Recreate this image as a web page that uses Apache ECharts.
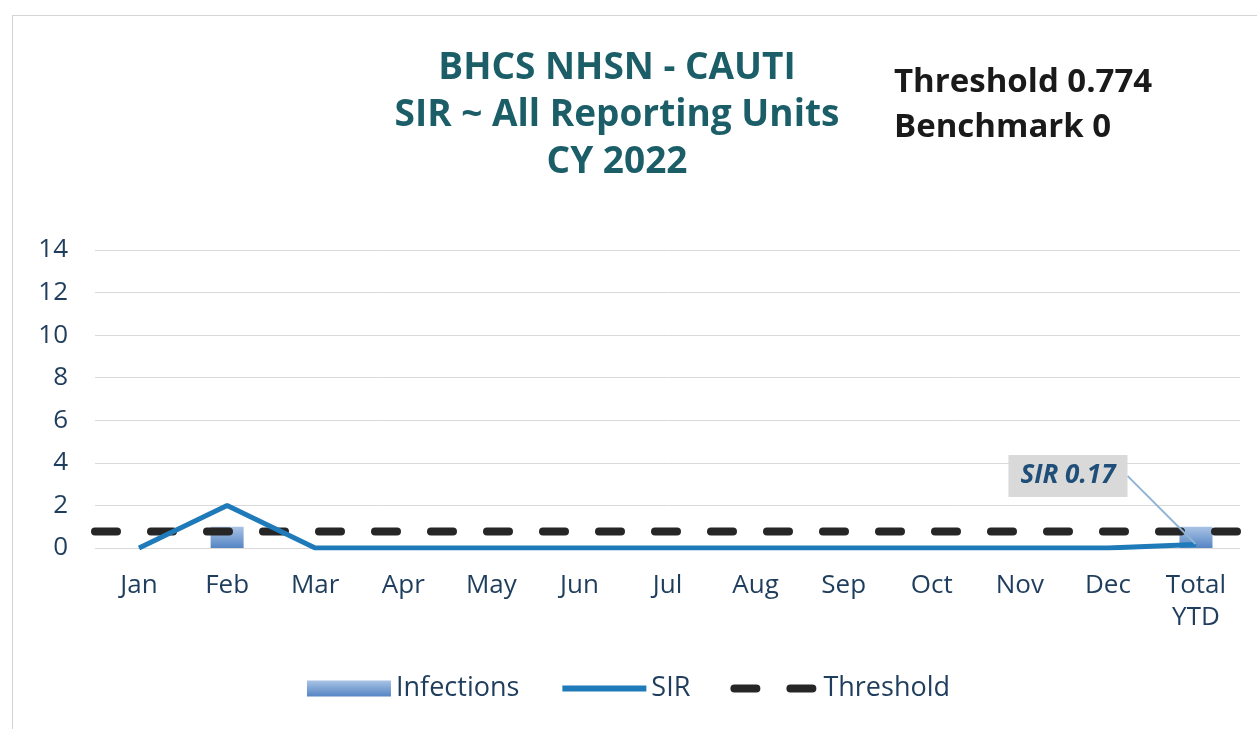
<!DOCTYPE html>
<html>
<head>
<meta charset="utf-8">
<script src="https://cdn.jsdelivr.net/npm/echarts@6/dist/echarts.min.js"></script>
<style>
  html, body { margin: 0; padding: 0; background: #fff; }
  #chart { width: 1257px; height: 729px; }
  .frame { position: absolute; left: 12px; top: 15px; width: 1260px; height: 730px; border: 1px solid #d4d4d4; pointer-events: none; }
</style>
</head>
<body>
<div class="frame"></div>
<div id="chart"></div>
<script>
// 数据
var categories = ['Jan', 'Feb', 'Mar', 'Apr', 'May', 'Jun', 'Jul', 'Aug', 'Sep', 'Oct', 'Nov', 'Dec', 'Total\nYTD']
var infections = [0, 1, 0, 0, 0, 0, 0, 0, 0, 0, 0, 0, 1]
var sir = [0, 2.0, 0, 0, 0, 0, 0, 0, 0, 0, 0, 0, 0.17]
var threshold = [0.774, 0.774, 0.774, 0.774, 0.774, 0.774, 0.774, 0.774, 0.774, 0.774, 0.774, 0.774, 0.774]
var yTicks = [0, 2, 4, 6, 8, 10, 12, 14]

var textColor = '#1f3d5c'
var font = '"Open Sans", Lato, sans-serif'
var last = sir.length - 1
var sirColor = '#1f7ab9'
var threshColor = '#262626'

var chart = echarts.init(document.getElementById('chart'))

// 只在 Total YTD 上显示标签
var sirData = sir.map(function (v, i) {
  if (i !== last) return v
  return {
    value: v,
    label: {
      show: true,
      position: 'top',
      formatter: 'SIR {c}',
      color: '#1f4e79',
      fontSize: 26,
      fontWeight: 'bold',
      fontStyle: 'italic',
      fontFamily: font,
      backgroundColor: '#d9d9d9',
      padding: [8, 12]
    },
    labelLine: { show: true, lineStyle: { color: '#8fb4d6', width: 2 } }
  }
})

var option = {
  animation: false,
  title: [{
    text: 'BHCS NHSN - CAUTI\nSIR ~ All Reporting Units\nCY 2022',
    left: 612,
    top: 40,
    textAlign: 'center',
    textStyle: { color: '#1b5e68', fontSize: 37, fontWeight: 'bold', fontFamily: font, lineHeight: 47 }
  }, {
    text: 'Threshold 0.774\nBenchmark 0',
    left: 889,
    top: 55,
    textStyle: { color: '#1a1a1a', fontSize: 33, fontWeight: 'bold', fontFamily: font, lineHeight: 45 }
  }],
  grid: { left: 95, right: 17, top: 250, bottom: 181 },
  legend: {
    bottom: 22,
    left: 'center',
    itemGap: 40,
    itemWidth: 84,
    itemHeight: 16,
    textStyle: { color: textColor, fontSize: 27, fontFamily: font },
    data: [
      { name: 'Infections', icon: 'rect' },
      { name: 'SIR', itemStyle: { opacity: 0 }, lineStyle: { color: sirColor, width: 6 } },
      { name: 'Threshold', itemStyle: { opacity: 0 }, lineStyle: { color: threshColor, width: 8, type: [22, 34], cap: 'round' } }
    ]
  },
  xAxis: [{
    type: 'category',
    data: categories,
    axisLine: { show: false },
    axisTick: { show: false },
    axisLabel: { color: textColor, fontSize: 26, fontFamily: font, margin: 22, lineHeight: 32, interval: 0 }
  }, {
    type: 'category',
    data: categories,
    boundaryGap: false,
    show: false
  }],
  yAxis: {
    type: 'value',
    min: yTicks[0],
    max: yTicks[yTicks.length - 1],
    interval: 2,
    axisLine: { show: false },
    axisTick: { show: false },
    axisLabel: { color: textColor, fontSize: 26, fontFamily: font, margin: 27 },
    splitLine: { lineStyle: { color: '#d9d9d9', width: 1 } }
  },
  series: [{
    name: 'Infections',
    type: 'bar',
    data: infections,
    barWidth: 33,
    itemStyle: {
      color: new echarts.graphic.LinearGradient(0, 0, 0, 1, [
        { offset: 0, color: '#a9c3e4' },
        { offset: 1, color: '#5585c4' }
      ])
    },
    z: 2
  }, {
    name: 'Threshold',
    type: 'line',
    xAxisIndex: 1,
    data: threshold,
    symbol: 'none',
    lineStyle: { color: threshColor, width: 8, type: [22, 34], cap: 'round' },
    itemStyle: { color: threshColor },
    z: 3
  }, {
    name: 'SIR',
    type: 'line',
    data: sirData,
    symbol: 'circle',
    symbolSize: 1,
    showSymbol: true,
    lineStyle: { color: sirColor, width: 5 },
    itemStyle: { color: sirColor },
    z: 4,
    labelLayout: function (params) {
      if (params.dataIndex !== last) return {}
      return { dx: -128, dy: -42 }
    }
  }]
}

chart.setOption(option)
</script>
</body>
</html>
